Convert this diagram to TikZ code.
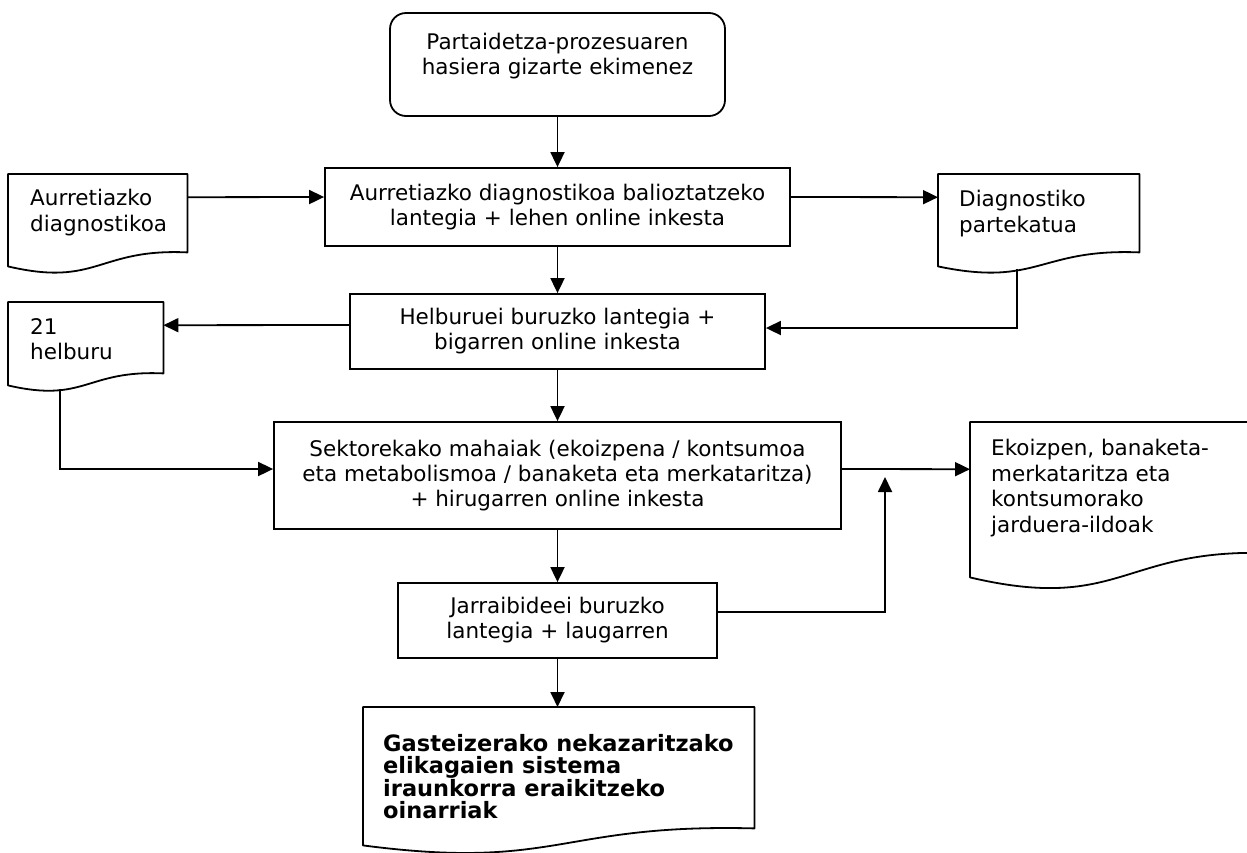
\documentclass[tikz,border=0pt]{standalone}
\usepackage{fontspec}
\setmainfont{DejaVu Sans}
\usetikzlibrary{arrows.meta}

\tikzset{
  procbox/.style={draw, line width=1.8pt, align=center, inner sep=0pt, font=\fontsize{21.5}{25}\selectfont},
  docbox/.style={inner sep=0pt, anchor=north west},
  doctext/.style={align=left, inner sep=0pt, anchor=north west, font=\fontsize{21.5}{25.5}\selectfont},
  docline/.style={line width=1.8pt, line join=round},
  flow/.style={line width=1.8pt, -{Triangle[length=15pt,width=14pt]}}
}

% outline of a document shape: #1 node, #2 drop of the lower left corner
\newcommand{\docwave}[2]{%
  \draw[docline] (#1.north west) -- (#1.north east) -- (#1.south east)
    .. controls ([yshift={-0.3*#2pt}]#1.south) and ([yshift={2.5*#2pt}]#1.south)
    .. ([yshift={#2pt}]#1.south west) -- cycle;}

\begin{document}
\begin{tikzpicture}[x=1pt,y=1pt,yscale=-1,xscale=1]
\path[use as bounding box, fill=white] (0,0) rectangle (1247,852);

%Shape: Rounded Rect
\node[procbox, rounded corners=16pt, minimum width=335, minimum height=103] (start) at (557.5,64.5) {};
% Text Node
\node[font=\fontsize{21.5}{25}\selectfont, align=center] (starttxt) at (557.5,56) {Partaidetza-prozesuaren\\hasiera gizarte ekimenez};

%Shape: Rectangle
\node[procbox, minimum width=465, minimum height=78] (assess) at (557.5,207) {Aurretiazko diagnostikoa balioztatzeko\\lantegia + lehen online inkesta};
%Shape: Rectangle
\node[procbox, minimum width=415, minimum height=75] (goals) at (557.5,331.5) {Helburuei buruzko lantegia +\\bigarren online inkesta};
%Shape: Rectangle
\node[procbox, minimum width=567, minimum height=107] (tables) at (557.5,475.5) {Sektorekako mahaiak (ekoizpena / kontsumoa\\eta metabolismoa / banaketa eta merkataritza)\\+ hirugarren online inkesta};
%Shape: Rectangle
\node[procbox, minimum width=319, minimum height=75] (follow) at (557.5,620.5) {Jarraibideei buruzko\\lantegia + laugarren};

%Shape: Document
\node[docbox, minimum width=179, minimum height=78] (prevdiag) at (8,174) {};
\docwave{prevdiag}{14}
\node[doctext] (prevdiagtxt) at (30,189) {Aurretiazko\\diagnostikoa};

%Shape: Document
\node[docbox, minimum width=201, minimum height=78] (shareddiag) at (938,174) {};
\docwave{shareddiag}{14}
\node[doctext] (shareddiagtxt) at (959,190) {Diagnostiko\\partekatua};

%Shape: Document
\node[docbox, minimum width=155, minimum height=71] (goalsdoc) at (8,302) {};
\docwave{goalsdoc}{12}
\node[doctext] (goalsdoctxt) at (30,318) {21\\helburu};

%Shape: Document
\node[docbox, minimum width=305, minimum height=131] (actiondoc) at (970,422) {};
\docwave{actiondoc}{24}
\node[doctext] (actiondoctxt) at (991,439) {Ekoizpen, banaketa-\\merkataritza eta\\kontsumorako\\jarduera-ildoak};

%Shape: Document
\node[docbox, minimum width=391, minimum height=121] (basisdoc) at (363,707) {};
\docwave{basisdoc}{17}
\node[doctext, font=\fontsize{22.5}{22.5}\selectfont\bfseries] (basisdoctxt) at (383,734) {Gasteizerako nekazaritzako\\elikagaien sistema\\iraunkorra eraikitzeko\\oinarriak};

\coordinate (merge) at (885,477);

%Straight Lines
\draw[flow] (start.south) -- (assess.north);
\draw[flow] (assess.south) -- (goals.north);
\draw[flow] (goals.south) -- (tables.north);
\draw[flow] (tables.south) -- (follow.north);
\draw[flow] (follow.south) -- (follow.south |- basisdoc.north);

\draw[flow] ([yshift=-16pt]prevdiag.east) -- ([yshift=-10pt]assess.west);
\draw[flow] ([yshift=-10pt]assess.east) -- ([yshift=-16pt]shareddiag.west);
\draw[flow] ([xshift=-21.5pt,yshift=17pt]shareddiag.south) |- ([yshift=-3.5pt]goals.east);
\draw[flow] ([yshift=-6.5pt]goals.west) -- ([yshift=-12.5pt]goalsdoc.east);
\draw[flow] ([xshift=-25.5pt,yshift=16pt]goalsdoc.south) |- ([yshift=-6.5pt]tables.west);
\draw[flow] ([yshift=-6.5pt]tables.east) -- ([yshift=-18.5pt]actiondoc.west);
\draw[flow] ([yshift=-8.5pt]follow.east) -| (merge);

\end{tikzpicture}
\end{document}
